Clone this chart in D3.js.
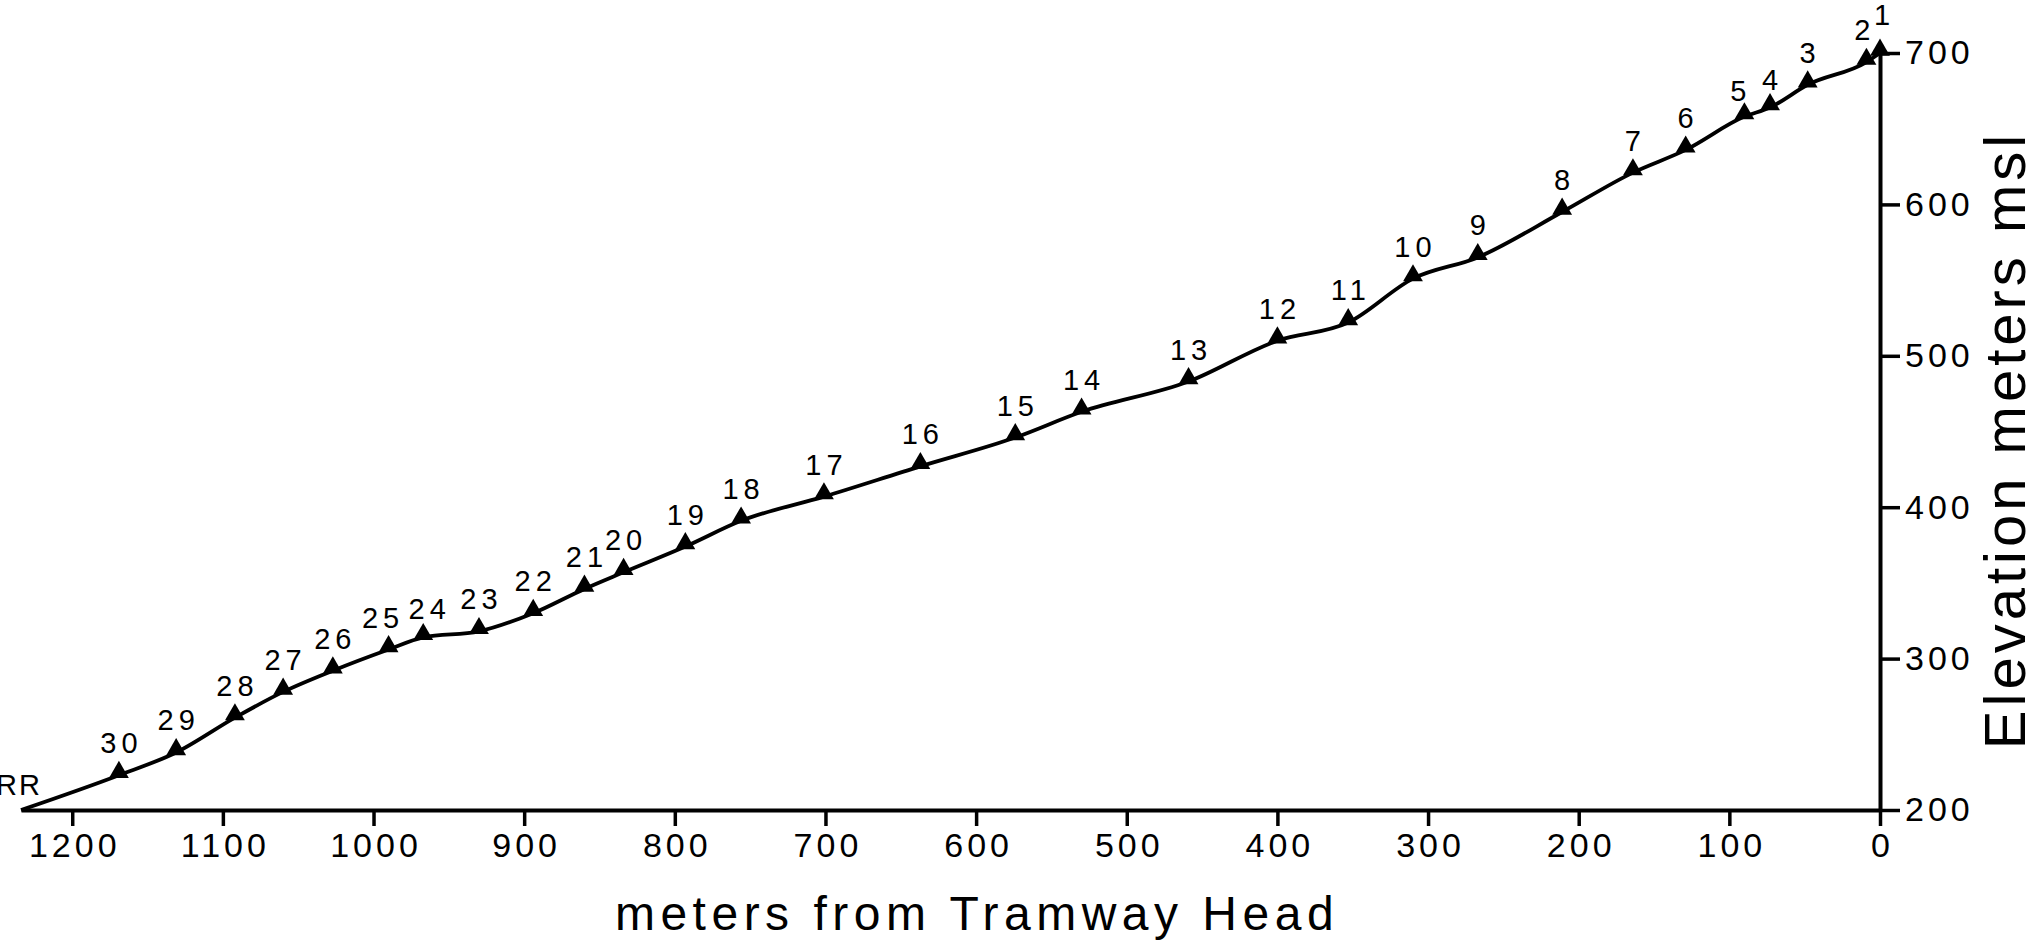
<!DOCTYPE html>
<html>
<head>
<meta charset="utf-8">
<script src="https://cdn.jsdelivr.net/npm/d3@7"></script>
<style>
  body { margin: 0; background: #fff; }
  svg { display: block; font-family: "Liberation Sans", Arial, Helvetica, sans-serif; }
</style>
</head>
<body>
<svg id="chart" width="2038" height="944"></svg>
<script>
// survey stations along the tramway, numbered from the head
const stations = [1, 2, 3, 4, 5, 6, 7, 8, 9, 10, 11, 12, 13, 14, 15,
                  16, 17, 18, 19, 20, 21, 22, 23, 24, 25, 26, 27, 28, 29, 30];
const distances = [0, 9, 48, 73, 90, 129, 164, 211, 267, 310, 353, 400, 459, 530, 574,
                   637, 701, 756, 793, 834, 860, 894, 930, 967, 990, 1027, 1060, 1092, 1131, 1169];
const elevations = [700, 694, 679, 664, 658, 636, 621, 595, 565, 551, 522, 510, 483, 463, 446,
                    427, 407, 391, 374, 357, 346, 330, 318, 314, 306, 292, 278, 261, 238, 223];
// railroad end of the profile
const railroad = { label: "RR", distance: 1234, elevation: 200 };

const xTicks = [1200, 1100, 1000, 900, 800, 700, 600, 500, 400, 300, 200, 100, 0];
const yTicks = [200, 300, 400, 500, 600, 700];

// a few labels sit off-centre in the original drawing
const labelNudge = { 1: [2, -6], 2: [-4, 0], 5: [-6, 6], 4: [0, 4], 25: [-8, 0], 24: [4, 4] };

const svg = d3.select("#chart");

const x = d3.scaleLinear().domain([0, 1234]).range([1880, 21]);
const y = d3.scaleLinear().domain([200, 700]).range([810, 53]);

const data = stations.map((s, i) => ({ station: s, distance: distances[i], elevation: elevations[i] }));
const profile = [{ distance: railroad.distance, elevation: railroad.elevation }]
    .concat(data.slice().reverse());

// axes
const xAxis = svg.append("g")
    .attr("transform", `translate(0,${y(200)})`)
    .call(d3.axisBottom(x).tickValues(xTicks).tickFormat(d3.format("d"))
        .tickSize(16).tickSizeOuter(0).tickPadding(7));

const yAxis = svg.append("g")
    .attr("transform", `translate(${x(0)},0)`)
    .call(d3.axisRight(y).tickValues(yTicks).tickFormat(d3.format("d"))
        .tickSize(20).tickSizeOuter(0).tickPadding(5));

[xAxis, yAxis].forEach(g => {
    g.select(".domain").attr("stroke", "#000").attr("stroke-width", 4);
    g.selectAll(".tick line").attr("stroke", "#000").attr("stroke-width", 3.5);
    g.selectAll(".tick text")
        .attr("fill", "#000")
        .attr("font-size", 34)
        .attr("letter-spacing", 4)
        .attr("font-family", "Liberation Sans, Arial, sans-serif");
});
xAxis.selectAll(".tick text").attr("dx", 2);

// profile line
svg.append("path")
    .datum(profile)
    .attr("fill", "none")
    .attr("stroke", "#000")
    .attr("stroke-width", 3.8)
    .attr("stroke-linejoin", "round")
    .attr("d", d3.line()
        .x(d => x(d.distance))
        .y(d => y(d.elevation))
        .curve(d3.curveMonotoneX));

// station markers
svg.append("g").selectAll("path")
    .data(data)
    .join("path")
    .attr("transform", d => `translate(${x(d.distance)},${y(d.elevation) - 3})`)
    .attr("d", d3.symbol(d3.symbolTriangle, 170))
    .attr("fill", "#000");

svg.append("g").selectAll("text")
    .data(data)
    .join("text")
    .attr("x", d => x(d.distance) + 2.5 + (labelNudge[d.station] || [0, 0])[0])
    .attr("y", d => y(d.elevation) - 22 + (labelNudge[d.station] || [0, 0])[1])
    .attr("text-anchor", "middle")
    .attr("font-size", 29)
    .attr("letter-spacing", 5)
    .attr("fill", "#000")
    .text(d => d.station);

svg.append("text")
    .attr("x", x(railroad.distance) + 21)
    .attr("y", y(railroad.elevation) - 15)
    .attr("text-anchor", "end")
    .attr("font-size", 29)
    .attr("letter-spacing", 2)
    .attr("fill", "#000")
    .text(railroad.label);

// axis titles
svg.append("text")
    .attr("x", 977)
    .attr("y", 930)
    .attr("text-anchor", "middle")
    .attr("font-size", 48)
    .attr("letter-spacing", 5.5)
    .attr("fill", "#000")
    .text("meters from Tramway Head");

svg.append("text")
    .attr("transform", "translate(2025,440) rotate(-90)")
    .attr("text-anchor", "middle")
    .attr("font-size", 58)
    .attr("letter-spacing", 4)
    .attr("fill", "#000")
    .text("Elevation meters msl");
</script>
</body>
</html>
